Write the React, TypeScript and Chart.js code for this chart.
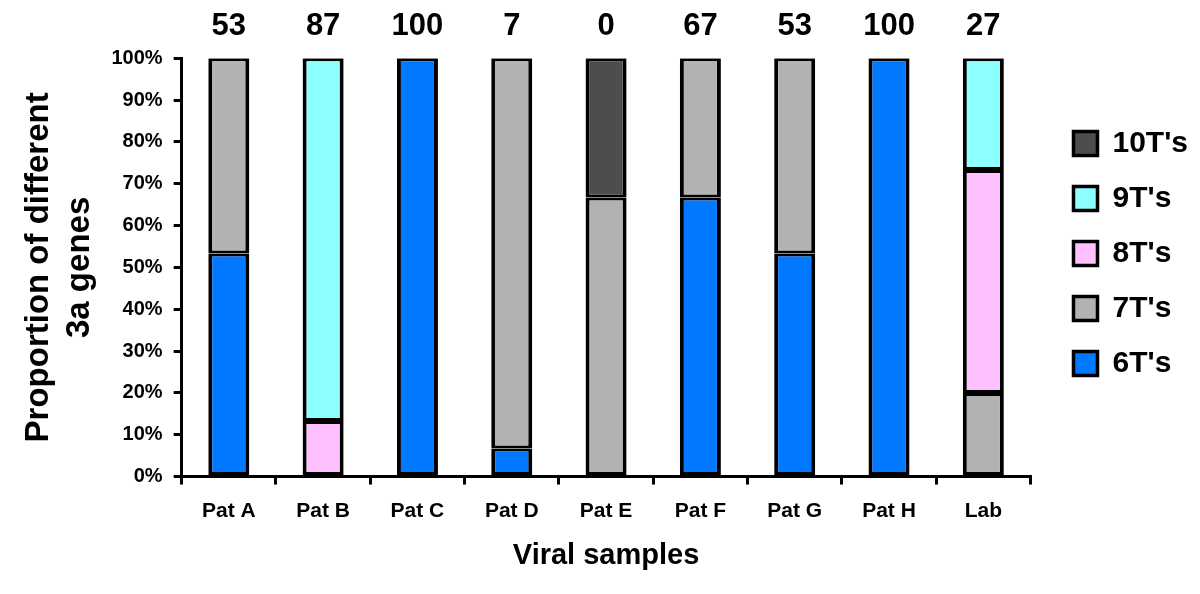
import React, { useEffect, useRef } from "react";
import { Chart, registerables } from "chart.js";

Chart.register(...registerables);

const categories = ["Pat A", "Pat B", "Pat C", "Pat D", "Pat E", "Pat F", "Pat G", "Pat H", "Lab"];
const topLabels = ["53", "87", "100", "7", "0", "67", "53", "100", "27"];
const yTicks = [0, 10, 20, 30, 40, 50, 60, 70, 80, 90, 100];

const sixT = [53.3, null, 100, 6.7, null, 66.7, 53.3, 100, null];
const sevenT = [46.7, null, null, 93.3, 66.7, 33.3, 46.7, null, 20];
const eightT = [null, 13.3, null, null, null, null, null, null, 53.3];
const nineT = [null, 86.7, null, null, null, null, null, null, 26.7];
const tenT = [null, null, null, null, 33.3, null, null, null, null];

const seriesNames = ["6T's", "7T's", "8T's", "9T's", "10T's"];
const seriesColors = ["#0078FF", "#B2B2B2", "#FFC0FF", "#8CFFFF", "#4D4D4D"];

const FONT = "'Liberation Sans', Arial, Helvetica, sans-serif";

const legendShift = {
  id: "legendShift",
  afterLayout(chart: any) {
    const l = chart.legend;
    if (!l) return;
    l.left += 18;
    l.right += 18;
    l.top -= 14;
    l.bottom -= 14;
  },
};

export default function App() {
  const ref = useRef<HTMLCanvasElement | null>(null);

  useEffect(() => {
    if (!ref.current) return;
    Chart.defaults.font.family = FONT;
    Chart.defaults.color = "#000";
    const seriesData = [sixT, sevenT, eightT, nineT, tenT];
    const datasets = seriesData.map((d, i) => ({
      label: seriesNames[i],
      data: d,
      backgroundColor: seriesColors[i],
      borderColor: "#000",
      borderWidth: { left: 4, right: 4, top: 3, bottom: 3 },
      borderSkipped: false,
      inflateAmount: 0,
      barPercentage: 0.435,
      categoryPercentage: 1,
    }));
    const chart = new Chart(ref.current, {
      type: "bar",
      data: { labels: categories, datasets: datasets as any },
      plugins: [legendShift],
      options: {
        responsive: false,
        animation: false,
        layout: { padding: { top: -5, left: 8, right: 20, bottom: 16 } },
        plugins: {
          tooltip: { enabled: false },
          legend: {
            position: "right",
            fullSize: false,
            reverse: true,
            labels: {
              boxWidth: 24,
              boxHeight: 24,
              padding: 25,
              color: "#000",
              font: { family: FONT, size: 30, weight: "bold" },
            },
          },
        },
        scales: {
          x: {
            type: "category",
            stacked: true,
            offset: true,
            grid: { offset: true, drawOnChartArea: false, drawTicks: true, tickLength: 8, color: "#000", lineWidth: 3 },
            border: { display: true, color: "#000", width: 3 },
            ticks: { color: "#000", padding: 14, font: { family: FONT, size: 21, weight: "bold" }, maxRotation: 0 },
            title: {
              display: true,
              text: "Viral samples",
              color: "#000",
              font: { family: FONT, size: 29, weight: "bold", lineHeight: 1.25 },
              padding: { top: 0, bottom: 4 },
            },
          },
          xTop: {
            type: "category",
            position: "top",
            labels: topLabels,
            offset: true,
            grid: { display: false, drawTicks: false },
            border: { display: false },
            ticks: { color: "#000", padding: 13, font: { family: FONT, size: 31, weight: "bold" }, maxRotation: 0 },
          },
          y: {
            type: "linear",
            stacked: true,
            min: 0,
            max: 100,
            afterBuildTicks: (scale: any) => {
              scale.ticks = yTicks.map((v) => ({ value: v }));
            },
            grid: { drawOnChartArea: false, drawTicks: true, tickLength: 8, color: "#000", lineWidth: 3 },
            border: { display: true, color: "#000", width: 3 },
            ticks: { color: "#000", padding: 11, font: { family: FONT, size: 20, weight: "bold" }, callback: (v: any) => v + "%" },
            title: {
              display: true,
              text: ["Proportion of different", "3a genes"],
              color: "#000",
              font: { family: FONT, size: 33, weight: "bold", lineHeight: 1.25 },
              padding: { top: 10, bottom: 0 },
            },
          },
        },
      },
    });
    return () => chart.destroy();
  }, []);

  return (
    <div style={{ position: "absolute", left: 0, top: 0, width: 1200, height: 594, background: "#fff" }}>
      <canvas ref={ref} width={1200} height={594} style={{ display: "block" }} />
    </div>
  );
}
